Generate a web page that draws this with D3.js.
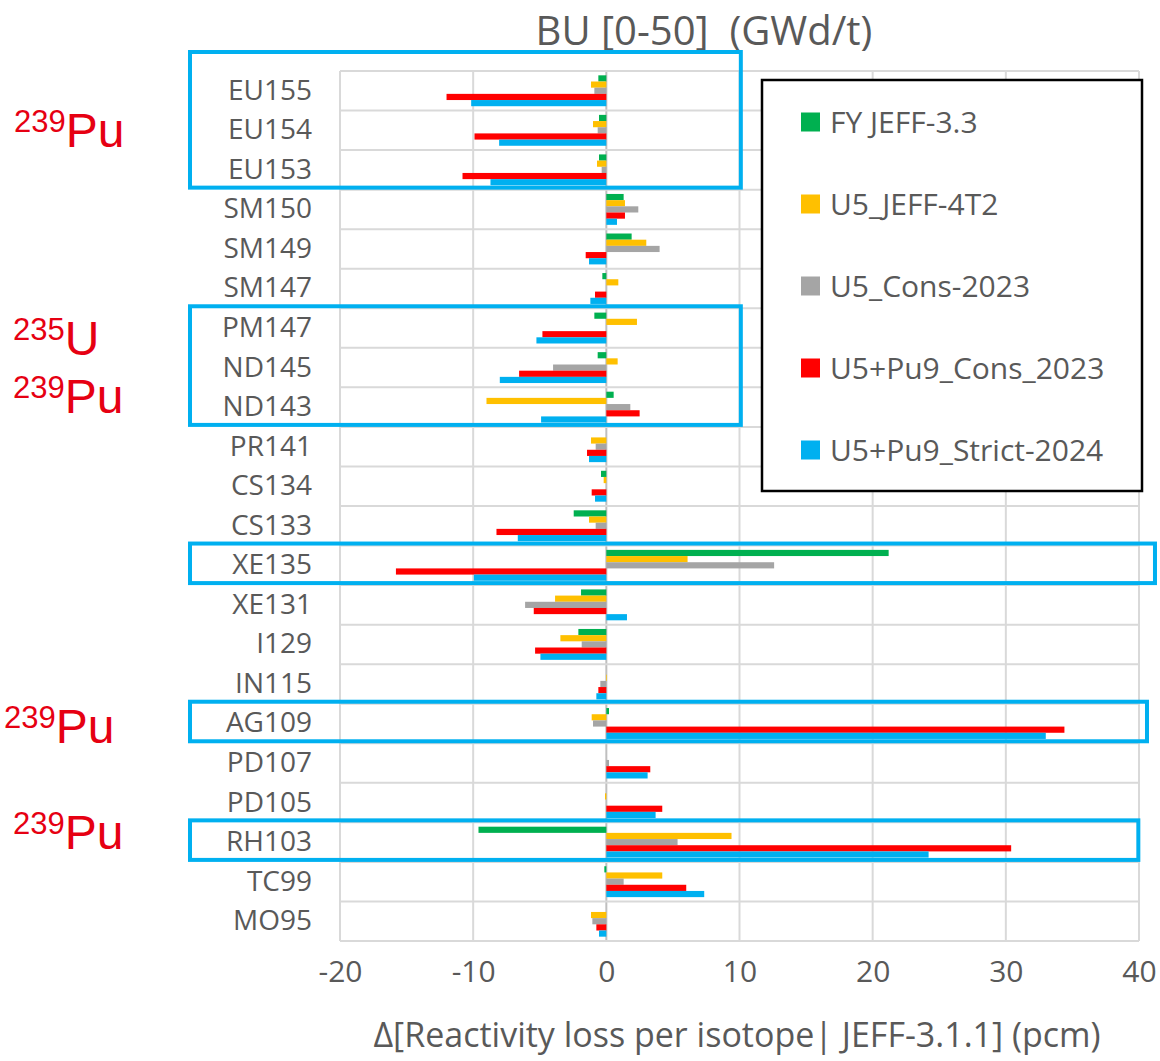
<!DOCTYPE html>
<html>
<head>
<meta charset="utf-8">
<script src="https://cdn.jsdelivr.net/npm/d3@7"></script>
<style>
body { margin: 0; background: #fff; }
</style>
</head>
<body>
<script>
// isotopes, top to bottom
var isotopes = ["EU155","EU154","EU153","SM150","SM149","SM147","PM147","ND145","ND143","PR141",
  "CS134","CS133","XE135","XE131","I129","IN115","AG109","PD107","PD105","RH103","TC99","MO95"];

var seriesNames = ["FY JEFF-3.3","U5_JEFF-4T2","U5_Cons-2023","U5+Pu9_Cons_2023","U5+Pu9_Strict-2024"];
var seriesColors = ["#00b050","#ffc000","#a5a5a5","#ff0000","#00b0f0"];

// delta reactivity loss (pcm), same order as isotopes
var fyJeff33      = [-0.6,-0.55,-0.55,1.3,1.9,-0.3,-0.9,-0.65,0.55,0,-0.4,-2.45,21.2,-1.9,-2.1,0,0.2,0,0,-9.6,-0.15,0];
var u5Jeff4t2     = [-1.15,-1.0,-0.7,1.4,3.0,0.9,2.3,0.85,-9.0,-1.15,-0.2,-1.3,6.1,-3.85,-3.45,0.05,-1.1,0,-0.1,9.4,4.2,-1.15];
var u5Cons2023    = [-0.9,-0.65,-0.35,2.4,4.0,0,0,-4.0,1.8,-0.8,0,-0.8,12.6,-6.1,-1.85,-0.45,-1.0,0.2,0,5.35,1.3,-1.05];
var u5pu9Cons2023 = [-12.0,-9.9,-10.8,1.4,-1.55,-0.85,-4.8,-6.55,2.5,-1.45,-1.1,-8.25,-15.8,-5.45,-5.35,-0.6,34.4,3.3,4.2,30.4,6.0,-0.75];
var u5pu9Strict2024 = [-10.15,-8.05,-8.7,0.8,-1.3,-1.2,-5.25,-8.0,-4.9,-1.3,-0.85,-6.65,-9.95,1.55,-4.95,-0.75,33.0,3.1,3.7,24.2,7.35,-0.55];

var allSeries = [fyJeff33, u5Jeff4t2, u5Cons2023, u5pu9Cons2023, u5pu9Strict2024];

var xTicks = [-20,-10,0,10,20,30,40];

// highlighted groups: first row, last row, right end (in pcm)
var boxes = [["EU155","EU153",10.1],["PM147","ND143",10.1],["XE135","XE135",41.2],["AG109","AG109",40.6],["RH103","RH103",39.95]];

// red annotations beside the boxes
var notes = [
  { row: "EU154", dy: 17, mass: "239", el: "Pu", dx: 14 },
  { row: "PM147", dy: 27, mass: "235", el: "U",  dx: 13 },
  { row: "ND143", dy: 6,  mass: "239", el: "Pu", dx: 13 },
  { row: "AG109", dy: 19, mass: "239", el: "Pu", dx: 4 },
  { row: "RH103", dy: 7,  mass: "239", el: "Pu", dx: 13 }
];

var rows = isotopes.map(function(d, i) {
  return { iso: d, vals: allSeries.map(function(s) { return s[i]; }) };
});

var svg = d3.select("body").append("svg")
  .attr("width", 1160)
  .attr("height", 1061);

var x = d3.scaleLinear().domain([-20, 40]).range([340, 1139]);
var y = d3.scaleBand().domain(isotopes).range([71, 941]);
var ySub = d3.scaleBand().domain(d3.range(5)).range([0, y.bandwidth()]).paddingOuter(0.7);

var grid = svg.append("g");

// vertical gridlines
grid.selectAll(".vg").data(xTicks).enter().append("line")
  .attr("x1", function(d) { return x(d); })
  .attr("x2", function(d) { return x(d); })
  .attr("y1", y.range()[0])
  .attr("y2", y.range()[1])
  .attr("stroke", function(d) { return d === 0 ? "#bfbfbf" : "#d9d9d9"; })
  .attr("stroke-width", 2);

// horizontal lines between categories
var bounds = isotopes.map(function(d) { return y(d); }).concat([y.range()[1]]);
grid.selectAll(".hg").data(bounds).enter().append("line")
  .attr("x1", x(-20))
  .attr("x2", x(40))
  .attr("y1", function(d) { return d; })
  .attr("y2", function(d) { return d; })
  .attr("stroke", "#d9d9d9")
  .attr("stroke-width", 2);

// bars
var groups = svg.selectAll(".row").data(rows).enter().append("g")
  .attr("transform", function(d) { return "translate(0," + y(d.iso) + ")"; });

groups.selectAll("rect").data(function(d) { return d.vals; }).enter().append("rect")
  .attr("x", function(v) { return x(Math.min(0, v)); })
  .attr("width", function(v) { return Math.abs(x(v) - x(0)); })
  .attr("y", function(v, i) { return ySub(i); })
  .attr("height", ySub.bandwidth())
  .attr("fill", function(v, i) { return seriesColors[i]; });

// axes
var xAxis = svg.append("g")
  .attr("transform", "translate(0,952)")
  .call(d3.axisBottom(x).tickValues(xTicks).tickFormat(function(d) { return String(d); })
    .tickSize(0).tickPadding(9));
xAxis.select(".domain").remove();
xAxis.selectAll("text")
  .attr("font-family", "'Open Sans', sans-serif")
  .attr("font-size", 30)
  .attr("fill", "#595959");

var yAxis = svg.append("g")
  .attr("transform", "translate(312,0)")
  .call(d3.axisLeft(y).tickSize(0).tickPadding(0));
yAxis.select(".domain").remove();
yAxis.selectAll("text")
  .attr("font-family", "'Open Sans', sans-serif")
  .attr("font-size", 28)
  .attr("fill", "#595959");

// titles
svg.append("text")
  .attr("x", 704)
  .attr("y", 45)
  .attr("text-anchor", "middle")
  .attr("font-family", "'Open Sans', sans-serif")
  .attr("font-size", 40)
  .attr("fill", "#595959")
  .attr("xml:space", "preserve")
  .text("BU [0-50]  (GWd/t)");

svg.append("text")
  .attr("x", 737)
  .attr("y", 1047)
  .attr("text-anchor", "middle")
  .attr("font-family", "'Open Sans', sans-serif")
  .attr("font-size", 34)
  .attr("fill", "#595959")
  .text("\u0394[Reactivity loss per isotope| JEFF-3.1.1] (pcm)");

// highlight boxes
svg.selectAll(".box").data(boxes).enter().append("rect")
  .attr("x", 190)
  .attr("y", function(d, i) { return i === 0 ? 52 : y(d[0]) - 2; })
  .attr("width", function(d) { return x(d[2]) - 190; })
  .attr("height", function(d, i) { return y(d[1]) + y.bandwidth() - (i === 0 ? 52 : y(d[0]) - 2) - 2; })
  .attr("fill", "none")
  .attr("stroke", "#00b0f0")
  .attr("stroke-width", 4);

// legend
var legend = svg.append("g");
legend.append("rect")
  .attr("x", 762).attr("y", 80)
  .attr("width", 380).attr("height", 411)
  .attr("fill", "#fff")
  .attr("stroke", "#000")
  .attr("stroke-width", 2.5);

var items = legend.selectAll(".item").data(seriesNames).enter().append("g")
  .attr("transform", function(d, i) { return "translate(801," + (122 + i * 82) + ")"; });
items.append("rect")
  .attr("x", 0).attr("y", -9.5)
  .attr("width", 19).attr("height", 19)
  .attr("fill", function(d, i) { return seriesColors[i]; });
items.append("text")
  .attr("x", 29)
  .attr("dy", "0.35em")
  .attr("font-family", "'Open Sans', sans-serif")
  .attr("font-size", 30)
  .attr("fill", "#595959")
  .text(function(d) { return d; });

// isotope annotations
var noteText = svg.selectAll(".note").data(notes).enter().append("text")
  .attr("x", function(d) { return d.dx; })
  .attr("y", function(d) { return y(d.row) + y.bandwidth() / 2 + d.dy; })
  .attr("font-family", "'Liberation Sans', Arial, sans-serif")
  .attr("fill", "#e60012");
noteText.append("tspan")
  .attr("font-size", 31)
  .attr("dy", -15)
  .text(function(d) { return d.mass; });
noteText.append("tspan")
  .attr("font-size", 48)
  .attr("dy", 15)
  .text(function(d) { return d.el; });
</script>
</body>
</html>
